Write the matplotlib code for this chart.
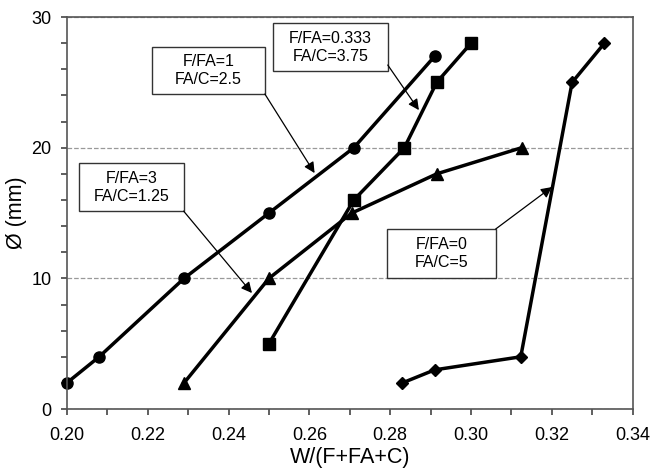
import matplotlib.pyplot as plt
from matplotlib.patches import Rectangle
from matplotlib.ticker import MultipleLocator

plt.rcParams['font.family'] = ['Liberation Sans', 'DejaVu Sans']

# F/FA=1, FA/C=2.5
x_circ = [0.200, 0.208, 0.229, 0.250, 0.271, 0.291]
y_circ = [2, 4, 10, 15, 20, 27]
# F/FA=0.333, FA/C=3.75
x_sq = [0.250, 0.271, 0.2835, 0.2915, 0.300]
y_sq = [5, 16, 20, 25, 28]
# F/FA=3, FA/C=1.25
x_tri = [0.229, 0.250, 0.2705, 0.2915, 0.3125]
y_tri = [2, 10, 15, 18, 20]
# F/FA=0, FA/C=5
x_dia = [0.283, 0.291, 0.3123, 0.325, 0.333]
y_dia = [2, 3, 4, 25, 28]

labels = ["F/FA=1\nFA/C=2.5", "F/FA=0.333\nFA/C=3.75",
          "F/FA=3\nFA/C=1.25", "F/FA=0\nFA/C=5"]

# callout boxes (x0, y0, x1, y1), arrow tails and tips, in data units
boxes = [(0.2210, 24.11, 0.2490, 27.70),
         (0.2510, 25.87, 0.2794, 29.54),
         (0.2030, 15.15, 0.2289, 18.83),
         (0.2792, 10.03, 0.3061, 13.78)]
tails = [(0.2490, 24.11), (0.2794, 26.33), (0.2289, 15.15), (0.3061, 13.78)]
tips = [(0.2613, 18.06), (0.2871, 22.88), (0.2458, 8.88), (0.3200, 16.99)]

fig = plt.figure(figsize=(6.55, 4.74), dpi=100)
ax = fig.add_axes([0.102, 0.137, 0.864, 0.827])

kw = dict(color='black', lw=2.5, clip_on=False)
ax.plot(x_circ, y_circ, marker='o', markersize=8, **kw)
ax.plot(x_sq, y_sq, marker='s', markersize=8, **kw)
ax.plot(x_tri, y_tri, marker='^', markersize=8.5, **kw)
ax.plot(x_dia, y_dia, marker='D', markersize=6.5, **kw)

for lab, (x0, y0, x1, y1), tail, tip in zip(labels, boxes, tails, tips):
    ax.add_patch(Rectangle((x0, y0), x1 - x0, y1 - y0, fc='white',
                           ec='#333333', lw=1, zorder=4))
    ax.text((x0 + x1) / 2, (y0 + y1) / 2, lab, ha='center', va='center',
            fontsize=11.5, linespacing=1.25, zorder=5)
    ax.annotate('', xy=tip, xytext=tail,
                arrowprops=dict(arrowstyle='-|>', color='black', lw=0.9,
                                mutation_scale=16, shrinkA=0, shrinkB=0),
                zorder=5)

ax.set_xlim(0.20, 0.34)
ax.set_ylim(0, 30)
ax.xaxis.set_major_locator(MultipleLocator(0.02))
ax.xaxis.set_minor_locator(MultipleLocator(0.01))
ax.yaxis.set_major_locator(MultipleLocator(10))
ax.yaxis.set_minor_locator(MultipleLocator(2))
ax.set_xticklabels([f"{v:.2f}" for v in ax.get_xticks()])
ax.tick_params(which='both', direction='out', color='#444444', labelsize=13,
               length=4, width=1.2)
ax.tick_params(axis='x', pad=9)
ax.tick_params(axis='y', pad=7)
for s in ax.spines.values():
    s.set_color('#555555')
    s.set_linewidth(1.2)
ax.grid(axis='y', which='major', ls='--', color='#999999', lw=0.9)
ax.set_axisbelow(True)
ax.set_xlabel('W/(F+FA+C)', fontsize=15.5, labelpad=2)
ax.set_ylabel('Ø (mm)', fontsize=15.5, labelpad=3)

fig.savefig('out.png', dpi=100)
